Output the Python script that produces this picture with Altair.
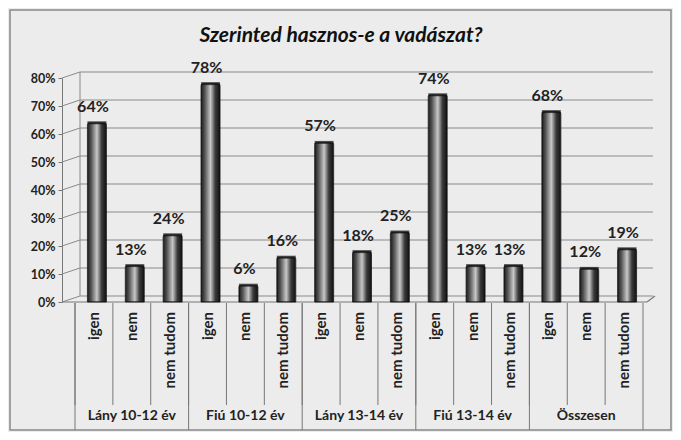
import altair as alt
import pandas as pd

groups = ["Lány 10-12 év", "Fiú 10-12 év", "Lány 13-14 év", "Fiú 13-14 év", "Összesen"]
answers = ["igen", "nem", "nem tudom"]
values = [
    [64, 13, 24],
    [78, 6, 16],
    [57, 18, 25],
    [74, 13, 13],
    [68, 12, 19],
]
y_ticks = [0, 10, 20, 30, 40, 50, 60, 70, 80]
title_text = "Szerinted hasznos-e a vadászat?"

rows = []
for gi, g in enumerate(groups):
    for ai, a in enumerate(answers):
        rows.append({"key": f"{gi}-{ai}", "group": g, "answer": a,
                     "v": values[gi][ai] / 100, "lbl": f"{values[gi][ai]}%",
                     "first": ai == 0})
df = pd.DataFrame(rows)
keys = list(df["key"])
grp_df = pd.DataFrame({"key": [f"{gi}-1" for gi in range(len(groups))], "group": groups})
grid_df = pd.DataFrame({"v": [t / 100 for t in y_ticks]})
first_df = df[df["first"]]
last_df = df.tail(1)

FONT = "Lato"
xs = alt.Scale(domain=keys, paddingInner=0, paddingOuter=0)
ys = alt.Scale(domain=[0, 0.8], nice=False)

yaxis = alt.Axis(format=".0%", values=[t / 100 for t in y_ticks],
                 grid=False, offset=13, tickSize=4, labelPadding=3,
                 domainColor="#777", tickColor="#777",
                 labelFont=FONT, labelFontWeight="bold",
                 labelFontSize=12.5, labelColor="#222", title=None)

def Yv(field="v:Q"):
    return alt.Y(field, scale=ys, axis=yaxis, title=None)

X = alt.X("key:N", scale=xs, axis=None, sort=keys)

base = alt.Chart(df)

border = alt.Chart(pd.DataFrame({"a": [0]})).mark_rect(fill=None, stroke="#888", strokeWidth=1.5).encode(
    x=alt.value(-65), x2=alt.value(596), y=alt.value(-68), y2=alt.value(352))

title = alt.Chart(pd.DataFrame({"t": [title_text]})).mark_text(
    font=FONT, fontSize=21, fontWeight="bold", fontStyle="italic", color="#111"
).encode(x=alt.value(266), y=alt.value(-42), text="t:N")

grid = alt.Chart(grid_df).mark_rule(color="#8a8a8a", strokeWidth=1.2, yOffset=-6, y2Offset=-6).encode(
    y=Yv(), x=alt.value(5), x2=alt.value(578))
diag = alt.Chart(grid_df).mark_rule(color="#8a8a8a", strokeWidth=1, y2Offset=-6).encode(
    y=Yv(), y2="v:Q", x=alt.value(-13), x2=alt.value(5))
backwall = alt.Chart(pd.DataFrame({"v": [0], "b": [0.8]})).mark_rule(color="#8a8a8a", yOffset=-6, y2Offset=-6).encode(
    x=alt.value(5), y=Yv(), y2="b:Q")
floor = alt.Chart(pd.DataFrame({"v": [0]})).mark_rule(color="#777", strokeWidth=1.2).encode(
    x=alt.value(-13), x2=alt.value(572), y=Yv())
floor_d = alt.Chart(pd.DataFrame({"v": [0]})).mark_rule(color="#777", strokeWidth=1.2, y2Offset=-6).encode(
    x=alt.value(572), x2=alt.value(580), y=Yv(), y2="v:Q")

grad = alt.Gradient(gradient="linear", x1=0, x2=1, y1=0, y2=0, stops=[
    alt.GradientStop(offset=0, color="#1a1a1a"),
    alt.GradientStop(offset=0.2, color="#555555"),
    alt.GradientStop(offset=0.5, color="#c8c8c8"),
    alt.GradientStop(offset=0.75, color="#3a3a3a"),
    alt.GradientStop(offset=1, color="#111111"),
])
bars = base.mark_bar(width=19, xOffset=3, color=grad, stroke="#111", strokeWidth=0.8,
                     cornerRadiusTopLeft=2, cornerRadiusTopRight=2).encode(x=X, y=Yv())
caps = base.mark_tick(size=19, thickness=3, xOffset=3, color="#111").encode(x=X, y=Yv())
vlabels = base.mark_text(font=FONT, fontSize=16, fontWeight="bold", color="#222", dy=-16, dx=-1).encode(
    x=X, y=Yv(), text="lbl:N")

cat_lbl = base.mark_text(font=FONT, fontSize=15, fontWeight="bold", color="#222", angle=270,
                         align="right", baseline="middle").encode(
    x=X, y=alt.value(234), text="answer:N")
grp_lbl = alt.Chart(grp_df).mark_text(font=FONT, fontSize=14, fontWeight="bold", color="#222").encode(
    x=alt.X("key:N", scale=xs, axis=None, sort=keys), y=alt.value(338), text="group:N")

sep = base.mark_rule(color="#777").encode(
    x=alt.X("key:N", scale=xs, axis=None, sort=keys, bandPosition=0), y=alt.value(225), y2=alt.value(327))
gsep = alt.Chart(first_df).mark_rule(color="#777").encode(
    x=alt.X("key:N", scale=xs, axis=None, sort=keys, bandPosition=0), y=alt.value(225), y2=alt.value(352))
gsep_last = alt.Chart(last_df).mark_rule(color="#777").encode(
    x=alt.X("key:N", scale=xs, axis=None, sort=keys, bandPosition=1), y=alt.value(225), y2=alt.value(352))

chart = alt.layer(
    border, title, grid, diag, backwall, floor, floor_d, sep, gsep, gsep_last,
    bars, caps, vlabels, cat_lbl, grp_lbl
).properties(
    width=568, height=224,
    autosize=alt.AutoSizeParams(type="none"),
    padding={"left": 67, "top": 70, "right": 30, "bottom": 130},
    background="#ececec",
).configure_view(stroke=None)

chart.save("out.html", embed_options={"renderer": "svg", "actions": False})
